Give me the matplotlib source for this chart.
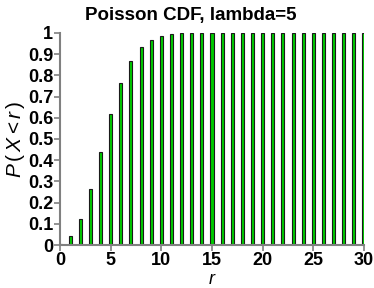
import matplotlib

matplotlib.use("Agg")
import matplotlib.pyplot as plt

# Poisson CDF values (lambda = 5)
r_values = list(range(0, 31))
cdf_values = [
    0.0067, 0.0404, 0.1247, 0.2650, 0.4405, 0.6160, 0.7622, 0.8666,
    0.9319, 0.9682, 0.9863, 0.9945, 0.9980, 0.9993, 0.9998, 0.9999,
    1.0, 1.0, 1.0, 1.0, 1.0, 1.0, 1.0, 1.0,
    1.0, 1.0, 1.0, 1.0, 1.0, 1.0, 1.0,
]
x_ticks = [0, 5, 10, 15, 20, 25, 30]
y_ticks = [0, 0.1, 0.2, 0.3, 0.4, 0.5, 0.6, 0.7, 0.8, 0.9, 1]
y_tick_labels = ["0", "0.1", "0.2", "0.3", "0.4", "0.5", "0.6", "0.7", "0.8", "0.9", "1"]

plt.rcParams["font.family"] = ["Liberation Sans", "DejaVu Sans"]
plt.rcParams["mathtext.fontset"] = "custom"
plt.rcParams["mathtext.it"] = "Liberation Sans:italic"
plt.rcParams["mathtext.rm"] = "Liberation Sans"

fig = plt.figure(figsize=(3.74, 2.88), dpi=100)
ax = fig.add_axes([60 / 374, 1 - 245 / 288, 304 / 374, 212 / 288])

ax.bar(
    r_values,
    cdf_values,
    width=0.3,
    color="#00cc00",
    edgecolor="#1a1a1a",
    linewidth=0.8,
    zorder=2,
)

ax.set_xlim(0, 30)
ax.set_ylim(0, 1)
ax.set_xticks(x_ticks)
ax.set_xticklabels([str(t) for t in x_ticks])
ax.set_yticks(y_ticks)
ax.set_yticklabels(y_tick_labels)

for side in ("top", "right"):
    ax.spines[side].set_visible(False)
for side in ("left", "bottom"):
    ax.spines[side].set_color("#808080")
    ax.spines[side].set_linewidth(1.5)

ax.tick_params(
    axis="both",
    direction="out",
    length=4,
    width=1.2,
    color="#808080",
    labelsize=13,
    pad=1,
)
for lbl in ax.get_xticklabels() + ax.get_yticklabels():
    lbl.set_fontweight("bold")

# Title is centred on the figure rather than the axes
fig.text(0.509, 1 - 20 / 288, "Poisson CDF, lambda=5", fontsize=13.5,
         fontweight="bold", ha="center", va="baseline")
ax.set_xlabel("$r$", fontsize=13)
ax.set_ylabel("$P\\,(\\,X<r\\,)$", fontsize=15)
ax.xaxis.set_label_coords(0.5, -0.125)
ax.yaxis.set_label_coords(-0.108, 0.5)

fig.savefig("out.png", dpi=100)
plt.close(fig)
